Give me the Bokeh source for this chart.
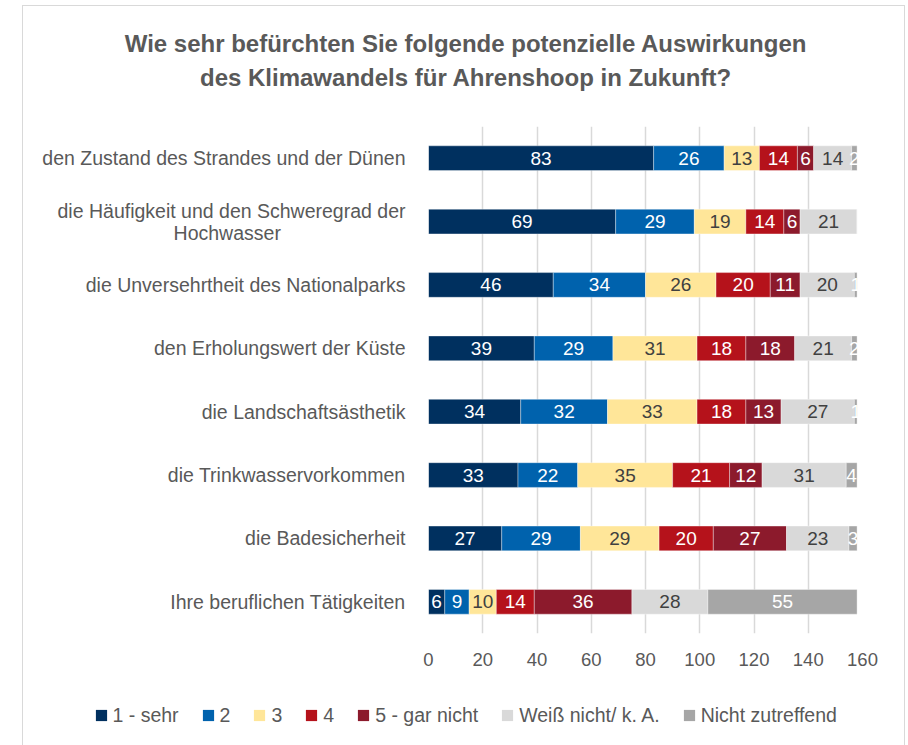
import numpy as np
from bokeh.plotting import figure
from bokeh.layouts import column
from bokeh.models import (ColumnDataSource, Legend, LegendItem, Label, FactorRange,
                          FixedTicker, Range1d)
from bokeh.core.properties import value
from bokeh.embed import file_html
from bokeh.resources import INLINE

# ---------------- data ----------------
title_line1 = "Wie sehr befürchten Sie folgende potenzielle Auswirkungen"
title_line2 = "des Klimawandels für Ahrenshoop in Zukunft?"

categories = [
    "den Zustand des Strandes und der Dünen",
    "die Häufigkeit und den Schweregrad der\nHochwasser",
    "die Unversehrtheit des Nationalparks",
    "den Erholungswert der Küste",
    "die Landschaftsästhetik",
    "die Trinkwasservorkommen",
    "die Badesicherheit",
    "Ihre beruflichen Tätigkeiten",
]

series_names = ["1 - sehr", "2", "3", "4", "5 - gar nicht",
                "Weiß nicht/ k. A.", "Nicht zutreffend"]

sehr = [83, 69, 46, 39, 34, 33, 27, 6]
stufe2 = [26, 29, 34, 29, 32, 22, 29, 9]
stufe3 = [13, 19, 26, 31, 33, 35, 29, 10]
stufe4 = [14, 14, 20, 18, 18, 21, 20, 14]
gar_nicht = [6, 6, 11, 18, 13, 12, 27, 36]
weiss_nicht = [14, 21, 20, 21, 27, 31, 23, 28]
nicht_zutreffend = [2, 0, 1, 2, 1, 4, 3, 55]

x_ticks = [0, 20, 40, 60, 80, 100, 120, 140, 160]

# ---------------- styles ----------------
colors = ["#00305F", "#0062AD", "#FFE699", "#B5121B", "#8C1A2C", "#D9D9D9", "#A6A6A6"]
label_colors = ["#FFFFFF", "#FFFFFF", "#404040", "#FFFFFF", "#FFFFFF", "#404040", "#FFFFFF"]
FONT = "Liberation Sans"
GREY_TEXT = "#595959"
W = 881


def display_factor(cat):
    # centre the 2nd line of a two-line label under the first one
    # (right-aligned axis labels; pad the short line with no-break spaces)
    if "\n" in cat:
        a, b = cat.split("\n")
        return a + "\n" + b + "\u00a0" * 23 + "\u200b"
    return cat


factors = [display_factor(c) for c in categories]

series_values = [sehr, stufe2, stufe3, stufe4, gar_nicht, weiss_nicht, nicht_zutreffend]
keys = ["s%d" % i for i in range(len(series_names))]

data = {"cat": factors}
for k, vals in zip(keys, series_values):
    data[k] = vals
source = ColumnDataSource(data)


def blank_figure(height, x_range, y_range):
    f = figure(width=W, height=height, x_range=x_range, y_range=y_range,
               x_axis_type=None, y_axis_type=None, output_backend="svg",
               toolbar_location=None, min_border=0)
    f.frame_align = False
    f.grid.visible = False
    f.outline_line_color = None
    f.background_fill_color = "white"
    f.border_fill_color = "white"
    return f


# ---------------- header (title) ----------------
header = blank_figure(100, Range1d(0, 1), Range1d(0, 1))
for txt, yy in [(title_line1, 63), (title_line2, 29)]:
    header.add_layout(Label(x=442.5, y=yy, x_units="screen", y_units="screen", text=txt,
                            text_align="center", text_baseline="middle",
                            text_font=FONT, text_font_size="24px", text_font_style="bold",
                            text_color=GREY_TEXT))

# ---------------- main chart ----------------
p = figure(
    width=W, height=589,
    y_range=FactorRange(factors=factors[::-1]),
    x_range=Range1d(0, 160),
    output_backend="svg", toolbar_location=None,
    min_border_left=405, min_border_right=42,
    min_border_top=20, min_border_bottom=62,
)
p.frame_align = False
p.background_fill_color = "white"
p.border_fill_color = "white"
p.outline_line_color = None

p.hbar_stack(keys, y="cat", height=0.39, color=colors, source=source,
             line_color="white", line_width=0.6, line_alpha=0.6)

mat = np.array(series_values, dtype=float)
left = np.vstack([np.zeros(mat.shape[1]), np.cumsum(mat, axis=0)[:-1]])
lx, ly, lt, lc = [], [], [], []
for i in range(mat.shape[0]):
    for j in range(mat.shape[1]):
        v = mat[i, j]
        if v > 0:
            lx.append(left[i, j] + v / 2.0)
            ly.append(factors[j])
            lt.append(str(int(v)))
            lc.append(label_colors[i])
lab_src = ColumnDataSource(dict(x=lx, y=ly, t=lt, c=lc))
p.text(x="x", y="y", text="t", source=lab_src, text_color="c",
       text_align="center", text_baseline="middle",
       text_font=value(FONT), text_font_size="19px")

p.xaxis.ticker = FixedTicker(ticks=x_ticks)
p.xaxis.axis_line_color = None
p.xaxis.major_tick_line_color = None
p.xaxis.minor_tick_line_color = None
p.xaxis.major_tick_out = 0
p.xaxis.major_tick_in = 0
p.xaxis.major_label_standoff = 19
p.xaxis.major_label_text_font = FONT
p.xaxis.major_label_text_font_size = "18.5px"
p.xaxis.major_label_text_color = GREY_TEXT

p.yaxis.axis_line_color = None
p.yaxis.major_tick_line_color = None
p.yaxis.minor_tick_line_color = None
p.yaxis.major_tick_out = 0
p.yaxis.major_tick_in = 0
p.yaxis.major_label_standoff = 23
p.yaxis.major_label_text_font = FONT
p.yaxis.major_label_text_font_size = "19.5px"
p.yaxis.major_label_text_color = GREY_TEXT
p.yaxis.major_label_text_line_height = 1.0

p.xgrid.grid_line_color = "#D9D9D9"
p.xgrid.grid_line_width = 1.5
p.ygrid.grid_line_color = None

# ---------------- footer (legend) ----------------
# same series drawn through a range that shows no bars; only the legend is visible
footer = blank_figure(50, Range1d(-2, -1), FactorRange(factors=factors[::-1]))
swatches = footer.hbar_stack(keys, y="cat", height=0.39, color=colors, source=source,
                             line_color=None)
items = [LegendItem(label=n, renderers=[r]) for n, r in zip(series_names, swatches)]
legend = Legend(items=items, orientation="horizontal", location=(70.5, 18.5),
                glyph_width=14, glyph_height=14, label_standoff=5, spacing=22,
                label_width=0, label_height=14, padding=0, margin=0,
                label_text_font=FONT, label_text_font_size="19.5px",
                label_text_color=GREY_TEXT,
                background_fill_alpha=0, border_line_color=None)
footer.add_layout(legend, "center")

layout = column(header, p, footer, spacing=0)
layout.margin = (5, 0, 0, 22)
layout.styles = {"border-top": "1px solid #D9D9D9", "border-left": "1px solid #D9D9D9",
                 "border-right": "1px solid #D9D9D9"}

open("out.html", "w").write(file_html(layout, INLINE))
